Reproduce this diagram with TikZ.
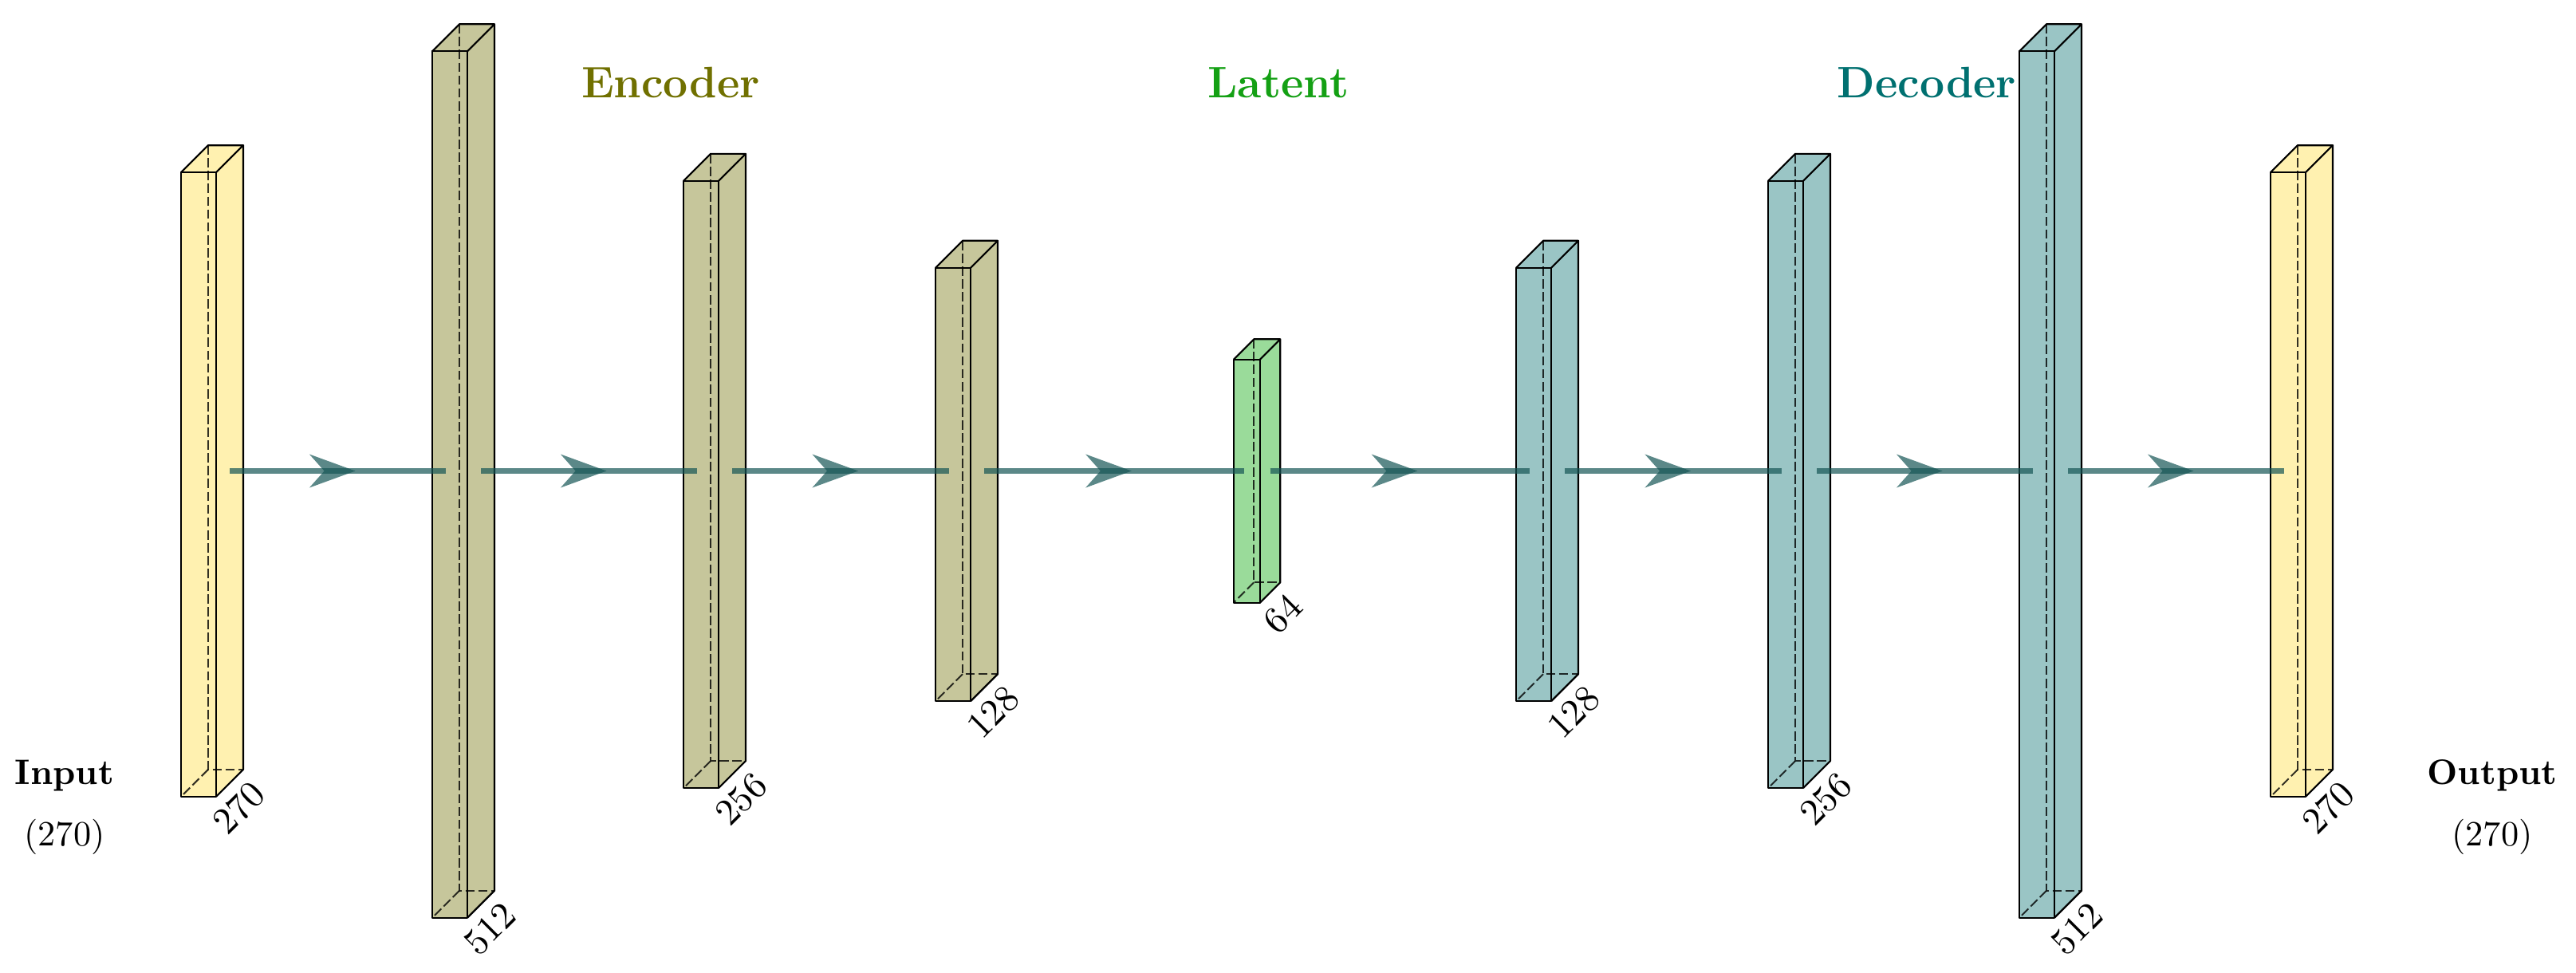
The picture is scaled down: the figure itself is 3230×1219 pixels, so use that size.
\documentclass[tikz,border=0pt]{standalone}
\usetikzlibrary{arrows.meta}
\definecolor{inputcol}{RGB}{255,241,176}
\definecolor{enccol}{RGB}{198,198,155}
\definecolor{latcol}{RGB}{154,219,154}
\definecolor{deccol}{RGB}{154,197,197}
\definecolor{edgecol}{RGB}{21,85,85}
\definecolor{enctext}{RGB}{112,112,0}
\definecolor{lattext}{RGB}{20,160,20}
\definecolor{dectext}{RGB}{0,112,112}
\def\pxunit{0.23pt}
\newcommand{\layerbox}[7]{%
  \pgfmathsetmacro{\lbxl}{#2-#5/2-#3/2}%
  \pgfmathsetmacro{\lbxr}{#2-#5/2+#3/2}%
  \pgfmathsetmacro{\lbyt}{590.5+#5/2-#4/2}%
  \pgfmathsetmacro{\lbyb}{590.5+#5/2+#4/2}%
  \pgfmathsetmacro{\lbbl}{\lbxl+#5}%
  \pgfmathsetmacro{\lbbr}{\lbxr+#5}%
  \pgfmathsetmacro{\lbbt}{\lbyt-#5}%
  \pgfmathsetmacro{\lbbb}{\lbyb-#5}%
  \fill[#6] (\lbxl,\lbyt) rectangle (\lbxr,\lbyb);
  \fill[#6] (\lbxl,\lbyt) -- (\lbbl,\lbbt) -- (\lbbr,\lbbt) -- (\lbxr,\lbyt) -- cycle;
  \fill[#6] (\lbxr,\lbyt) -- (\lbbr,\lbbt) -- (\lbbr,\lbbb) -- (\lbxr,\lbyb) -- cycle;
  \draw[hiddenedge] (\lbbl,\lbbt) -- (\lbbl,\lbbb) -- (\lbbr,\lbbb);
  \draw[hiddenedge] (\lbbl,\lbbb) -- (\lbxl,\lbyb);
  \draw[boxedge] (\lbxl,\lbyt) rectangle (\lbxr,\lbyb);
  \draw[boxedge] (\lbxl,\lbyt) -- (\lbbl,\lbbt) -- (\lbbr,\lbbt) -- (\lbxr,\lbyt);
  \draw[boxedge] (\lbbr,\lbbt) -- (\lbbr,\lbbb) -- (\lbxr,\lbyb);
  \node[corebox, minimum width=#3*\pxunit, minimum height=#4*\pxunit] (#1) at (#2,590.5) {};
  \node[dimlabel] (#1-dim) at (\lbxr+28.5,\lbyb+14) {#7};
}
\tikzset{
  hiddenedge/.style={black, opacity=0.8, line width=0.45pt, dash pattern=on 2.7pt off 1pt},
  boxedge/.style={black, line width=0.5pt, line join=round},
  corebox/.style={rectangle, draw=none, inner sep=0pt, outer sep=0pt},
  dimlabel/.style={rotate=45, inner sep=0pt, font=\fontsize{10.8}{13}\selectfont},
  conn/.style={draw=edgecol, line width=1.6pt, opacity=0.7},
  headfill/.style={fill=edgecol, opacity=0.7},
  heading/.style={anchor=base, inner sep=0pt, font=\fontsize{12.7}{15}\selectfont\bfseries},
  iolabel/.style={anchor=base, inner sep=0pt, font=\fontsize{10.2}{12}\selectfont},
}
\begin{document}
\begin{tikzpicture}[x=0.23pt,y=-0.23pt]
\useasboundingbox (0,0) rectangle (3230,1219);
\layerbox{b1}{266}{44}{782.7}{34}{inputcol}{270}
\layerbox{b2}{581}{44}{1086.4}{34}{enccol}{512}
\layerbox{b3}{896}{44}{761.3}{34}{enccol}{256}
\layerbox{b4}{1212}{44}{543.4}{34}{enccol}{128}
\layerbox{b5}{1576}{33}{305}{25.5}{latcol}{64}
\layerbox{b6}{1940}{44}{543.4}{34}{deccol}{128}
\layerbox{b7}{2256}{44}{761.3}{34}{deccol}{256}
\layerbox{b8}{2571}{44}{1086.4}{34}{deccol}{512}
\layerbox{b9}{2886}{44}{782.7}{34}{inputcol}{270}
\foreach \a/\b in {b1/b2,b2/b3,b3/b4,b4/b5,b5/b6,b6/b7,b7/b8,b8/b9}{
  \draw[conn] (\a.east) -- coordinate (\a-mid) (\b.west);
  \fill[headfill] ([shift={(22,0)}]\a-mid) -- ++(-57.6,21) -- ++(18.7,-21) -- ++(-18.7,-21) -- cycle;
}
\node[heading, text=enctext] (enc) at (841,122) {Encoder};
\node[heading, text=lattext] (lat) at (1603,122) {Latent};
\node[heading, text=dectext] (dec) at (2416,122) {Decoder};
\node[iolabel, font=\fontsize{10.2}{12}\selectfont\bfseries] (inp) at (81,983) {Input};
\node[iolabel] (inpn) at (81,1060) {(270)};
\node[iolabel, font=\fontsize{10.2}{12}\selectfont\bfseries] (outp) at (3125,983) {Output};
\node[iolabel] (outpn) at (3125,1060) {(270)};
\end{tikzpicture}
\end{document}
